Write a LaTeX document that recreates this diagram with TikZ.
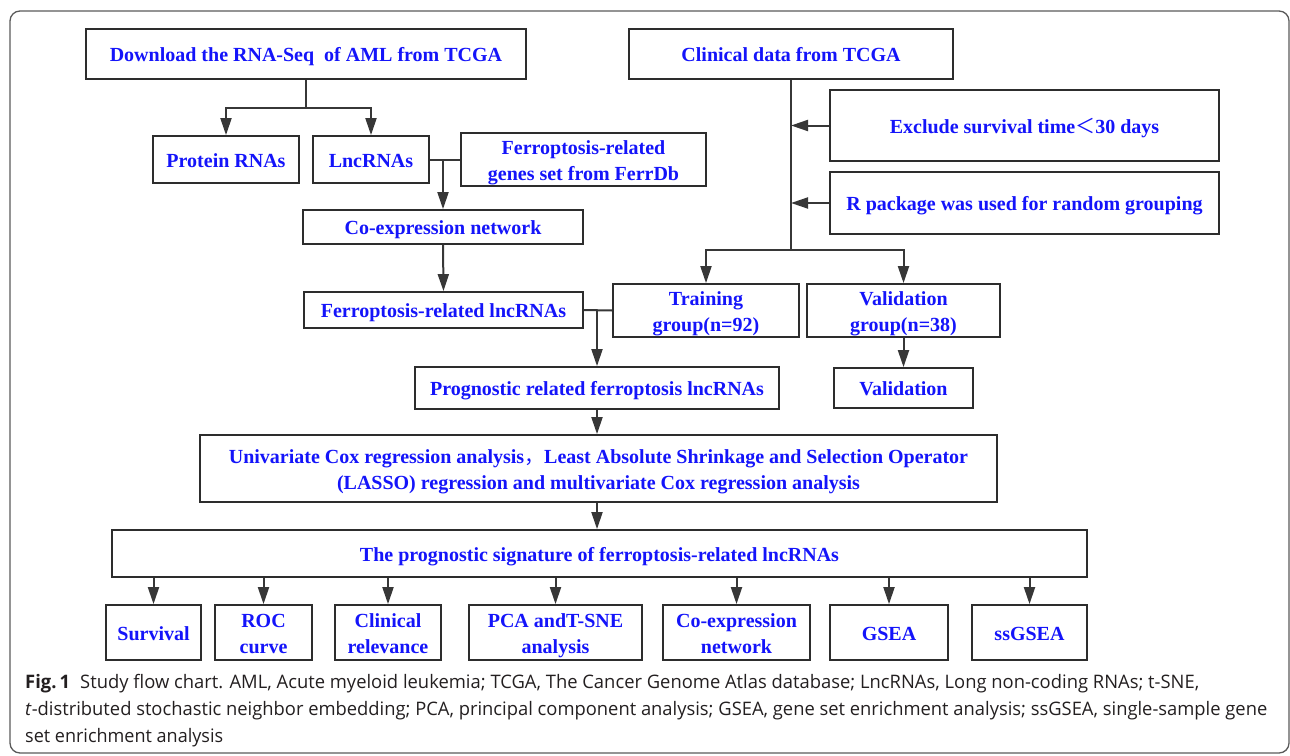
\documentclass[tikz,border=0pt]{standalone}
\usepackage{fontspec}
\usepackage{graphicx}
\usetikzlibrary{arrows.meta,calc}
\setmainfont{Liberation Serif}
\newfontfamily\capfont{Open Sans}
\newfontfamily\cjkfont{Noto Sans CJK SC}
\definecolor{boxc}{RGB}{45,45,45}
\definecolor{linec}{RGB}{55,55,55}
\definecolor{txtblue}{RGB}{20,20,250}
\definecolor{capc}{RGB}{35,31,32}
\definecolor{framec}{RGB}{90,90,90}
\begin{document}
\begin{tikzpicture}[x=1pt,y=-1pt,
  box/.style={draw=boxc, line width=1.8pt, fill=white, text=txtblue,
    font=\fontsize{20}{26}\selectfont\bfseries, align=center, inner sep=1pt,
    text height=16pt, text depth=1pt},
  box2/.style={box, text height=42pt, text depth=1pt},
  ln/.style={draw=linec, line width=2pt},
  arr/.style={draw=linec, line width=2pt, -{Triangle[length=17pt,width=11pt]}},
  captext/.style={text=capc, font=\capfont\fontsize{18.6}{27}\selectfont, inner sep=0pt, anchor=base west}]
\useasboundingbox (0,0) rectangle (1290,755);
\draw[framec, line width=1.3pt, rounded corners=10pt] (10,11) rectangle (1289,753);

% top boxes
\node[box, minimum width=440pt, minimum height=50pt] (dl) at (306,54) {Download the RNA-Seq\ \ of AML from TCGA};
\node[box, minimum width=324pt, minimum height=50pt] (clin) at (791,54) {Clinical data from TCGA};
\node[box, minimum width=146pt, minimum height=47pt] (prot) at (226,159.5) {Protein RNAs};
\node[box, minimum width=116pt, minimum height=47pt] (lnc) at (371,159.5) {LncRNAs};
\node[box2, minimum width=245pt, minimum height=53pt] (ferrdb) at (583.5,159.5) {Ferroptosis-related\\genes set from FerrDb};
\node[box, minimum width=389pt, minimum height=71pt] (excl) at (1024.5,125.5) {Exclude survival time{\cjkfont\mdseries ＜}30 days};
\node[box, minimum width=389pt, minimum height=62pt] (rpkg) at (1024.5,203) {R package was used for random grouping};
\node[box, minimum width=280pt, minimum height=34pt] (coexp) at (443,227) {Co-expression network};
\node[box, minimum width=279pt, minimum height=36pt] (frl) at (443.5,310) {Ferroptosis-related lncRNAs};
\node[box2, minimum width=186pt, minimum height=53pt] (train) at (706,310.5) {Training\\group(n=92)};
\node[box2, minimum width=193pt, minimum height=53pt] (valg) at (903.5,310.5) {Validation\\group(n=38)};
\node[box, minimum width=364pt, minimum height=42pt] (prog) at (597,388) {Prognostic related ferroptosis lncRNAs};
\node[box, minimum width=139pt, minimum height=40pt] (val) at (903.5,388) {Validation};
\node[box2, minimum width=797pt, minimum height=67pt] (uni) at (598.5,468.5) {Univariate Cox regression analysis{\cjkfont\mdseries ，}Least Absolute Shrinkage and Selection Operator\\(LASSO) regression and multivariate Cox regression analysis};
\node[box, minimum width=975pt, minimum height=47pt] (sig) at (599.5,553.5) {The prognostic signature of ferroptosis-related lncRNAs};

% bottom boxes
\node[box, minimum width=95pt, minimum height=55pt] (b1) at (153.5,632.5) {Survival};
\node[box2, minimum width=97pt, minimum height=55pt] (b2) at (263.5,632.5) {ROC\\curve};
\node[box2, minimum width=106pt, minimum height=55pt] (b3) at (388,632.5) {Clinical\\relevance};
\node[box2, minimum width=173pt, minimum height=55pt] (b4) at (555.5,632.5) {PCA andT-SNE\\analysis};
\node[box2, minimum width=147pt, minimum height=55pt] (b5) at (736.5,632.5) {Co-expression\\network};
\node[box, minimum width=118pt, minimum height=55pt] (b6) at (889,632.5) {GSEA};
\node[box, minimum width=115pt, minimum height=55pt] (b7) at (1029.5,632.5) {ssGSEA};

% connectors
\coordinate (j1) at ($(dl.south)+(0,28)$);
\draw[ln] (dl.south) -- (j1);
\draw[arr] (j1) -| (prot.north);
\draw[arr] (j1) -| (lnc.north);
\draw[ln] (lnc.east) -- (ferrdb.west);
\draw[arr] (lnc.east -| coexp.north) -- (coexp.north);
\draw[arr] (coexp.south) -- (frl.north);
\draw[ln] (frl.east) -- (train.west);
\draw[arr] (frl.east -| prog.north) -- (prog.north);

\coordinate (j2) at ($(clin.south)+(0,170)$);
\draw[ln] (clin.south) -- (j2);
\draw[arr] (j2) -| (train.north);
\draw[arr] (j2) -| (valg.north);
\draw[arr] (excl.west) -- (excl.west -| clin.south);
\draw[arr] (rpkg.west) -- (rpkg.west -| clin.south);
\draw[arr] (valg.south) -- (val.north);

\draw[arr] (prog.south) -- (prog.south |- uni.north);
\draw[arr] (prog.south |- uni.south) -- (prog.south |- sig.north);
\foreach \b in {b1,b2,b3,b4,b5,b6,b7}
  \draw[arr] (sig.south -| \b.north) -- (\b.north);

% caption
\node[captext] (cap1) at (25,688) {\resizebox{1174pt}{\height}{\textbf{Fig.\,1}\hspace{0.55em}Study flow chart. AML, Acute myeloid leukemia; TCGA, The Cancer Genome Atlas database; LncRNAs, Long non-coding RNAs; t-SNE,}};
\node[captext] (cap2) at (25,715) {\resizebox{1242pt}{\height}{\textit{t}-distributed stochastic neighbor embedding; PCA, principal component analysis; GSEA, gene set enrichment analysis; ssGSEA, single-sample gene}};
\node[captext] (cap3) at (25,742) {\resizebox{198pt}{\height}{set enrichment analysis}};
\end{tikzpicture}
\end{document}
